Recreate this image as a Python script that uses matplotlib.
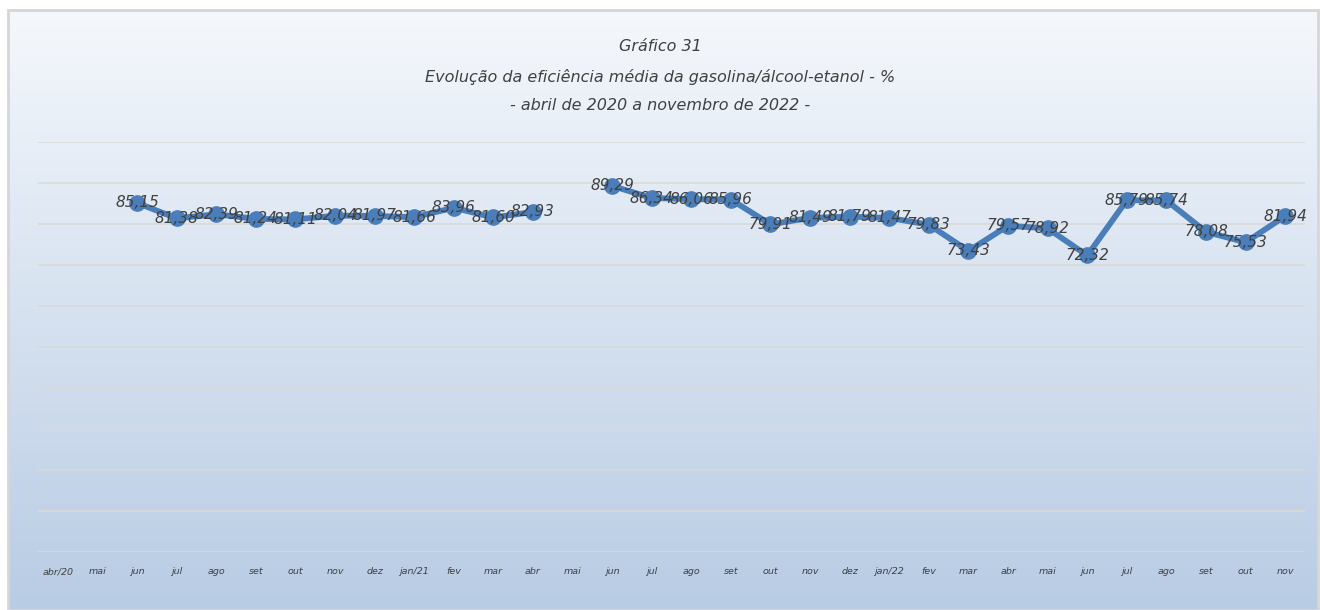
import matplotlib.pyplot as plt
import numpy as np
from matplotlib.patches import Rectangle

months = ['abr/20', 'mai', 'jun', 'jul', 'ago', 'set', 'out', 'nov', 'dez', 'jan/21',
          'fev', 'mar', 'abr', 'mai', 'jun', 'jul', 'ago', 'set', 'out', 'nov', 'dez',
          'jan/22', 'fev', 'mar', 'abr', 'mai', 'jun', 'jul', 'ago', 'set', 'out', 'nov']
eficiencia = [np.nan, np.nan, 85.15, 81.38, 82.39, 81.24, 81.11, 82.04, 81.97, 81.66,
              83.96, 81.60, 82.93, np.nan, 89.29, 86.34, 86.06, 85.96, 79.91, 81.49, 81.79,
              81.47, 79.83, 73.43, 79.57, 78.92, 72.32, 85.79, 85.74, 78.08, 75.53, 81.94]
titulo = 'Gráfico 31\nEvolução da eficiência média da gasolina/álcool-etanol - %\n- abril de 2020 a novembro de 2022 -'

plt.rcParams['font.family'] = ['DejaVu Sans']
txt = '#404040'
azul = '#4a7ebb'

fig = plt.figure(figsize=(13.2, 6.1), dpi=100)

# gradient background of the chart box
bg = fig.add_axes([8/1320, 0, 1310/1320, 600/610])
grad = np.linspace(0, 1, 256).reshape(-1, 1)
top = np.array([0.960, 0.972, 0.988])
bot = np.array([0.722, 0.800, 0.894])
img = top + (bot - top) * grad[:, :, None]
bg.imshow(img, aspect='auto', extent=[0, 1, 0, 1])
bg.set_axis_off()
fig.patches.append(Rectangle((8/1320, 0), 1310/1320, 600/610, transform=fig.transFigure,
                             fill=False, edgecolor='#d6d6d6', lw=2))

ax = fig.add_axes([38/1320, 58/610, 1267/1320, 410/610])
ax.patch.set_alpha(0)
x = np.arange(len(months))
ax.plot(x, eficiencia, color=azul, lw=4.2, marker='o', ms=11, zorder=3)
for xi, v in zip(x, eficiencia):
    if not np.isnan(v):
        ax.text(xi, v, f'{v:.2f}'.replace('.', ','), ha='center', va='center',
                fontsize=11, style='italic', color=txt, zorder=4)

ax.set_xlim(-0.5, len(months) - 0.5)
ax.set_ylim(0, 100)
ax.set_yticks(np.arange(0, 101, 10))
ax.yaxis.grid(True, color='#d9d9d9', lw=1.2)
ax.set_yticklabels([])
ax.tick_params(axis='y', length=0)
ax.set_xticks(x)
ax.set_xticklabels(months, fontsize=6.8, style='italic', color=txt)
ax.tick_params(axis='x', length=0, pad=11)
for s in ax.spines.values():
    s.set_visible(False)
ax.set_axisbelow(True)

fig.text(0.5, (610 - 76)/610, titulo, ha='center', va='center', fontsize=11.5, style='italic',
         color=txt, linespacing=2.1)

fig.savefig('out.png', dpi=100)
